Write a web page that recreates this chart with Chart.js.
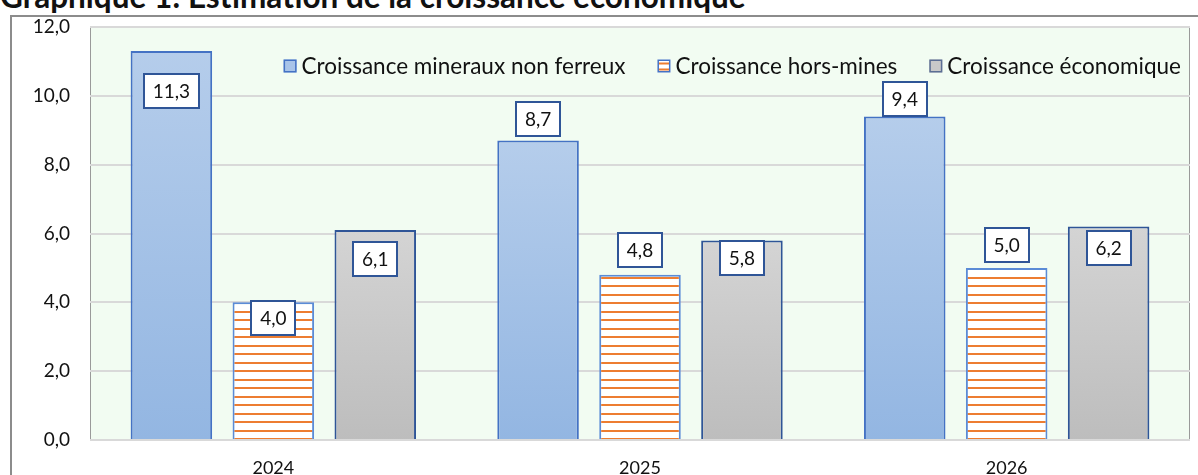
<!DOCTYPE html>
<html>
<head>
<meta charset="utf-8">
<script src="https://cdn.jsdelivr.net/npm/chart.js@4.4.1/dist/chart.umd.min.js"></script>
<style>
  html, body { margin: 0; padding: 0; background: #fff; overflow: hidden; }
  #wrap { position: relative; width: 1198px; height: 475px; overflow: hidden; }
  #title { position: absolute; left: 0; top: -19px; font: bold 31.5px Lato, sans-serif; line-height: 31px; color: #111; white-space: nowrap; }
  #frame { position: absolute; left: 10px; top: 15px; width: 1300px; height: 600px; border-left: 2px solid #8c8c8c; border-top: 2px solid #8c8c8c; background: #fff; }
  #chart { position: absolute; left: 0; top: 0; }
</style>
</head>
<body>
<div id="wrap">
  <div id="title">Graphique 1: Estimation de la croissance économique</div>
  <div id="frame"></div>
  <canvas id="chart" width="1198" height="475"></canvas>
</div>
<script>
const years = ['2024', '2025', '2026'];
const seriesNames = ['Croissance mineraux non ferreux', 'Croissance hors-mines', 'Croissance économique'];
const mineraux = [11.3, 8.7, 9.4];
const horsMines = [4.0, 4.8, 5.0];
const economique = [6.1, 5.8, 6.2];

// vertical shift of each value box from the bar top (px), per series
const labelShift = [[40, -22, -17], [16, -25, -23], [29, 18, 21]];

const FONT = 'Lato, sans-serif';
const fmt = v => v.toFixed(1).replace('.', ',');

function barGradient(ctx, top, bottom) {
  const chart = ctx.chart;
  const area = chart.chartArea;
  if (!area || ctx.raw == null) return bottom;
  const y = chart.scales.y.getPixelForValue(ctx.raw);
  const g = chart.ctx.createLinearGradient(0, y, 0, area.bottom);
  g.addColorStop(0, top);
  g.addColorStop(1, bottom);
  return g;
}

let stripeCanvas = null;
function stripes(ctx) {
  const chart = ctx.chart;
  if (!stripeCanvas) {
    stripeCanvas = document.createElement('canvas');
    stripeCanvas.width = 8;
    stripeCanvas.height = 17;
    const p = stripeCanvas.getContext('2d');
    p.fillStyle = '#ffffff';
    p.fillRect(0, 0, 8, 17);
    p.fillStyle = '#ED7D31';
    p.fillRect(0, 0, 8, 2);
    p.fillRect(0, 9, 8, 2);
  }
  const pat = chart.ctx.createPattern(stripeCanvas, 'repeat');
  const area = chart.chartArea;
  if (area && pat.setTransform) {
    const off = ((Math.round(area.bottom) - 2) % 17 + 17) % 17;
    pat.setTransform(new DOMMatrix().translate(0, off));
  }
  return pat;
}

const plotBg = {
  id: 'plotBg',
  beforeDraw(chart) {
    const { ctx, chartArea: a } = chart;
    ctx.save();
    ctx.fillStyle = '#F2FCF2';
    ctx.fillRect(a.left, a.top, a.right - a.left, a.bottom - a.top);
    ctx.strokeStyle = '#9a9a9a';
    ctx.lineWidth = 1;
    ctx.beginPath();
    ctx.moveTo(a.left + 0.5, a.bottom);
    ctx.lineTo(a.left + 0.5, a.top + 0.5);
    ctx.lineTo(a.right - 0.5, a.top + 0.5);
    ctx.lineTo(a.right - 0.5, a.bottom);
    ctx.stroke();
    ctx.restore();
  }
};

const valueBoxes = {
  id: 'valueBoxes',
  afterDatasetsDraw(chart) {
    const ctx = chart.ctx;
    ctx.save();
    ctx.font = '19px ' + FONT;
    ctx.textAlign = 'center';
    ctx.textBaseline = 'middle';
    chart.data.datasets.forEach((ds, i) => {
      chart.getDatasetMeta(i).data.forEach((bar, j) => {
        const txt = fmt(ds.data[j]);
        const w = Math.round(ctx.measureText(txt).width + 18);
        const h = 34;
        const cy = Math.round(bar.y + labelShift[i][j]);
        const x0 = Math.round(bar.x - w / 2);
        ctx.fillStyle = '#fff';
        ctx.fillRect(x0, cy - h / 2, w, h);
        ctx.strokeStyle = '#2F5597';
        ctx.lineWidth = 2;
        ctx.strokeRect(x0, cy - h / 2, w, h);
        ctx.fillStyle = '#111';
        ctx.fillText(txt, bar.x, cy + 1);
      });
    });
    ctx.restore();
  }
};

const legendBoxes = [
  { fill: '#A8C4E9', border: '#4472C4' },
  { fill: '#ffffff', border: '#4472C4', line: '#ED7D31' },
  { fill: '#C9C9C9', border: '#5B6E94' }
];

const insideLegend = {
  id: 'insideLegend',
  afterDraw(chart) {
    const { ctx, chartArea: a } = chart;
    ctx.save();
    ctx.font = '22.5px ' + FONT;
    ctx.textBaseline = 'middle';
    const box = 13, gap = 5, space = 32;
    const widths = seriesNames.map(s => ctx.measureText(s).width);
    let total = 0;
    widths.forEach((w, i) => { total += box + gap + w + (i ? space : 0); });
    let x = a.right - 9 - total;
    const cy = 66;
    seriesNames.forEach((name, i) => {
      const st = legendBoxes[i];
      ctx.fillStyle = st.fill;
      ctx.fillRect(x, cy - box / 2, box, box);
      if (st.line) {
        ctx.fillStyle = st.line;
        ctx.fillRect(x + 1, cy - box / 2 + 3, box - 2, 2);
        ctx.fillRect(x + 1, cy + box / 2 - 4, box - 2, 2);
      }
      ctx.strokeStyle = st.border;
      ctx.lineWidth = 1.5;
      ctx.strokeRect(x + 0.75, cy - box / 2 + 0.75, box - 1.5, box - 1.5);
      ctx.fillStyle = '#111';
      ctx.fillText(name, x + box + gap, cy + 1);
      x += box + gap + widths[i] + space;
    });
    ctx.restore();
  }
};

new Chart(document.getElementById('chart'), {
  type: 'bar',
  data: {
    labels: years,
    datasets: [
      {
        label: seriesNames[0],
        data: mineraux,
        backgroundColor: ctx => barGradient(ctx, '#B5CDEB', '#93B6E2'),
        borderColor: '#4472C4',
        borderWidth: 2
      },
      {
        label: seriesNames[1],
        data: horsMines,
        backgroundColor: stripes,
        borderColor: '#5B8BD6',
        borderWidth: 2
      },
      {
        label: seriesNames[2],
        data: economique,
        backgroundColor: ctx => barGradient(ctx, '#D4D4D4', '#BDBDBD'),
        borderColor: '#2F5597',
        borderWidth: 2
      }
    ]
  },
  options: {
    responsive: false,
    devicePixelRatio: 1,
    animation: false,
    layout: { padding: { left: 10, right: 8, top: 27, bottom: 0 } },
    categoryPercentage: 0.834,
    barPercentage: 0.8,
    plugins: {
      legend: { display: false },
      tooltip: { enabled: false }
    },
    scales: {
      x: {
        grid: { display: false },
        border: { display: false },
        ticks: { color: '#111', font: { family: FONT, size: 18 }, padding: 9 },
        afterFit: s => { s.height = 35; }
      },
      y: {
        min: 0,
        max: 12,
        grid: { color: '#D9D9D9', lineWidth: 2, drawTicks: false },
        border: { display: false },
        ticks: {
          stepSize: 2,
          color: '#111',
          padding: 20,
          font: { family: FONT, size: 19 },
          callback: v => fmt(v)
        },
        afterFit: s => { s.width = 80; s.paddingTop = 0; s.paddingBottom = 0; }
      }
    }
  },
  plugins: [plotBg, valueBoxes, insideLegend]
});
</script>
</body>
</html>
